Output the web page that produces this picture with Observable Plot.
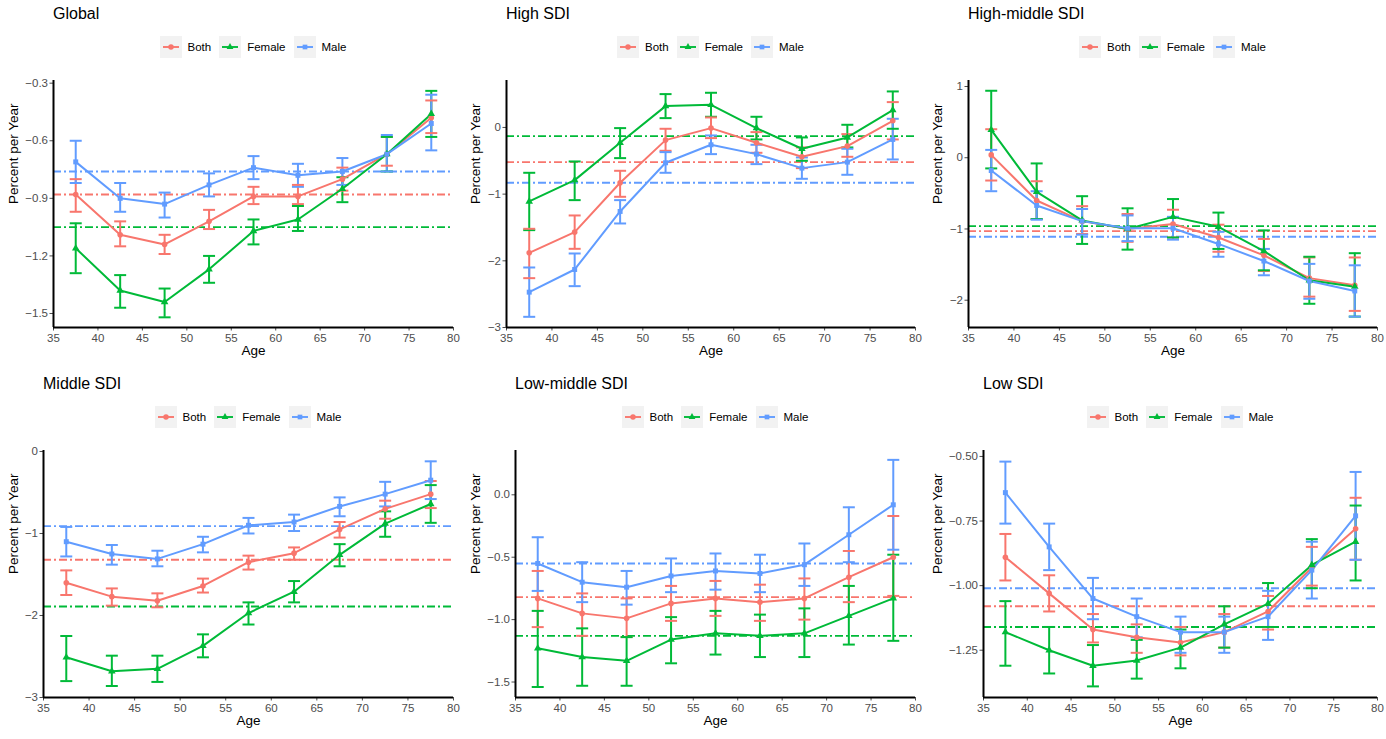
<!DOCTYPE html>
<html><head><meta charset="utf-8">
<script src="https://cdn.jsdelivr.net/npm/d3@7"></script>
<script src="https://cdn.jsdelivr.net/npm/@observablehq/plot@0.6"></script>
<style>
body{margin:0;background:#fff;font-family:"Liberation Sans",Arial,sans-serif;}
#grid{position:relative;width:1386px;height:739px;overflow:hidden;}
.panel{position:absolute;width:462px;height:370px;}
.title{position:absolute;top:6px;font-size:16px;line-height:1;color:#000;white-space:nowrap;}
.legend{position:absolute;top:36px;height:22px;display:flex;align-items:center;font-size:11.5px;color:#000;white-space:nowrap;}
.legend .key{width:22px;height:22px;background:#F2F2F2;margin-right:6px;}
.legend .lab{margin-right:8px;}
.panel .plotwrap{position:absolute;top:60px;left:0;}
</style>
</head><body>
<div id="grid"></div>
<script>
const ages = [37.5, 42.5, 47.5, 52.5, 57.5, 62.5, 67.5, 72.5, 77.5];
const xTicks = [35, 40, 45, 50, 55, 60, 65, 70, 75, 80];
const sexes = ["Both", "Female", "Male"];
const colors = ["#F8766D", "#00BA38", "#619CFF"];
const symbols = ["circle", "triangle", "square"];
const titles = ["Global", "High SDI", "High-middle SDI", "Middle SDI", "Low-middle SDI", "Low SDI"];

// rows: Both, Female, Male
const globalEst = [
  [-0.88, -1.09, -1.14, -1.02, -0.89, -0.89, -0.80, -0.67, -0.48],
  [-1.16, -1.38, -1.44, -1.27, -1.07, -1.01, -0.85, -0.67, -0.46],
  [-0.71, -0.90, -0.93, -0.83, -0.74, -0.78, -0.76, -0.67, -0.51]];
const globalUpper = [
  [-0.80, -1.02, -1.09, -0.96, -0.84, -0.83, -0.74, -0.58, -0.39],
  [-1.03, -1.30, -1.37, -1.20, -1.01, -0.94, -0.79, -0.58, -0.34],
  [-0.60, -0.82, -0.87, -0.77, -0.68, -0.72, -0.69, -0.57, -0.36]];
const globalLower = [
  [-0.97, -1.15, -1.19, -1.06, -0.93, -0.93, -0.86, -0.73, -0.56],
  [-1.29, -1.47, -1.52, -1.34, -1.14, -1.07, -0.92, -0.76, -0.58],
  [-0.82, -0.97, -1.00, -0.89, -0.80, -0.84, -0.83, -0.76, -0.65]];
const globalAAPC = [-0.88, -1.05, -0.76];
const globalTicks = [-1.5, -1.2, -0.9, -0.6, -0.3];

const highEst = [
  [-1.88, -1.57, -0.83, -0.19, -0.01, -0.23, -0.44, -0.28, 0.10],
  [-1.11, -0.79, -0.23, 0.32, 0.34, -0.01, -0.32, -0.15, 0.26],
  [-2.47, -2.13, -1.26, -0.53, -0.26, -0.40, -0.61, -0.52, -0.18]];
const highUpper = [
  [-1.52, -1.32, -0.65, -0.02, 0.15, -0.07, -0.30, -0.10, 0.38],
  [-0.68, -0.51, -0.01, 0.50, 0.52, 0.16, -0.15, 0.04, 0.54],
  [-2.10, -1.89, -1.09, -0.37, -0.12, -0.26, -0.45, -0.32, 0.13]];
const highLower = [
  [-2.26, -1.82, -1.04, -0.35, -0.16, -0.38, -0.61, -0.44, -0.18],
  [-1.54, -1.09, -0.46, 0.14, 0.16, -0.18, -0.50, -0.30, -0.02],
  [-2.84, -2.38, -1.44, -0.68, -0.40, -0.55, -0.77, -0.71, -0.48]];
const highAAPC = [-0.52, -0.13, -0.83];
const highTicks = [-3, -2, -1, 0];

const highMiddleEst = [
  [0.04, -0.60, -0.89, -1.00, -0.93, -1.12, -1.37, -1.69, -1.79],
  [0.39, -0.48, -0.88, -1.00, -0.83, -0.97, -1.31, -1.72, -1.81],
  [-0.18, -0.67, -0.89, -0.99, -0.99, -1.21, -1.45, -1.73, -1.87]];
const highMiddleUpper = [
  [0.40, -0.33, -0.68, -0.79, -0.73, -0.94, -1.14, -1.40, -1.40],
  [0.94, -0.08, -0.54, -0.71, -0.58, -0.77, -1.02, -1.39, -1.34],
  [0.11, -0.47, -0.72, -0.81, -0.83, -1.04, -1.28, -1.49, -1.51]];
const highMiddleLower = [
  [-0.32, -0.86, -1.07, -1.18, -1.12, -1.32, -1.59, -1.95, -2.15],
  [-0.15, -0.86, -1.21, -1.29, -1.12, -1.28, -1.58, -2.05, -2.23],
  [-0.47, -0.87, -1.08, -1.17, -1.15, -1.39, -1.65, -1.98, -2.23]];
const highMiddleAAPC = [-1.03, -0.96, -1.11];
const highMiddleTicks = [-2, -1, 0, 1];

const middleEst = [
  [-1.60, -1.77, -1.82, -1.64, -1.35, -1.24, -0.95, -0.70, -0.52],
  [-2.51, -2.68, -2.65, -2.37, -1.97, -1.71, -1.26, -0.88, -0.64],
  [-1.10, -1.25, -1.31, -1.13, -0.90, -0.86, -0.67, -0.52, -0.35]];
const middleUpper = [
  [-1.45, -1.67, -1.73, -1.55, -1.27, -1.17, -0.86, -0.60, -0.36],
  [-2.25, -2.49, -2.49, -2.23, -1.84, -1.58, -1.13, -0.73, -0.41],
  [-0.92, -1.14, -1.21, -1.04, -0.81, -0.77, -0.56, -0.37, -0.12]];
const middleLower = [
  [-1.75, -1.88, -1.90, -1.72, -1.44, -1.32, -1.05, -0.82, -0.69],
  [-2.80, -2.86, -2.81, -2.51, -2.11, -1.84, -1.40, -1.04, -0.87],
  [-1.28, -1.38, -1.40, -1.23, -1.00, -0.97, -0.79, -0.67, -0.58]];
const middleAAPC = [-1.32, -1.89, -0.91];
const middleTicks = [-3, -2, -1, 0];

const lowMiddleEst = [
  [-0.83, -0.95, -0.99, -0.87, -0.83, -0.86, -0.83, -0.66, -0.50],
  [-1.23, -1.30, -1.33, -1.16, -1.11, -1.13, -1.11, -0.97, -0.83],
  [-0.55, -0.70, -0.74, -0.65, -0.61, -0.63, -0.56, -0.32, -0.08]];
const lowMiddleUpper = [
  [-0.61, -0.79, -0.83, -0.73, -0.69, -0.72, -0.67, -0.45, -0.17],
  [-0.93, -1.07, -1.14, -0.98, -0.93, -0.96, -0.91, -0.73, -0.48],
  [-0.34, -0.54, -0.61, -0.51, -0.47, -0.48, -0.39, -0.10, 0.28]];
const lowMiddleLower = [
  [-1.06, -1.13, -1.14, -1.01, -0.97, -1.01, -1.00, -0.86, -0.81],
  [-1.54, -1.53, -1.53, -1.35, -1.28, -1.30, -1.30, -1.20, -1.17],
  [-0.77, -0.86, -0.88, -0.78, -0.76, -0.78, -0.73, -0.54, -0.44]];
const lowMiddleAAPC = [-0.82, -1.13, -0.55];
const lowMiddleTicks = [-1.5, -1.0, -0.5, 0.0];

const lowEst = [
  [-0.89, -1.03, -1.17, -1.20, -1.22, -1.18, -1.10, -0.93, -0.78],
  [-1.18, -1.25, -1.31, -1.29, -1.24, -1.15, -1.07, -0.92, -0.83],
  [-0.64, -0.85, -1.05, -1.12, -1.18, -1.18, -1.12, -0.94, -0.73]];
const lowUpper = [
  [-0.80, -0.96, -1.11, -1.15, -1.16, -1.11, -1.04, -0.85, -0.66],
  [-1.06, -1.16, -1.23, -1.21, -1.17, -1.08, -0.99, -0.82, -0.69],
  [-0.52, -0.76, -0.97, -1.05, -1.12, -1.12, -1.02, -0.83, -0.56]];
const lowLower = [
  [-0.98, -1.10, -1.22, -1.26, -1.27, -1.24, -1.17, -1.00, -0.90],
  [-1.31, -1.34, -1.39, -1.36, -1.32, -1.24, -1.16, -1.01, -0.98],
  [-0.76, -0.94, -1.13, -1.20, -1.26, -1.26, -1.21, -1.05, -0.90]];
const lowAAPC = [-1.08, -1.16, -1.01];
const lowTicks = [-1.25, -1.00, -0.75, -0.50];

const panels = [
  {est: globalEst, up: globalUpper, lo: globalLower, aapc: globalAAPC, ticks: globalTicks, fmt: ".1f", domain: [-1.573, -0.286], ml: 53},
  {est: highEst, up: highUpper, lo: highLower, aapc: highAAPC, ticks: highTicks, fmt: ".0f", domain: [-3.0, 0.704], ml: 44},
  {est: highMiddleEst, up: highMiddleUpper, lo: highMiddleLower, aapc: highMiddleAAPC, ticks: highMiddleTicks, fmt: ".0f", domain: [-2.383, 1.084], ml: 44},
  {est: middleEst, up: middleUpper, lo: middleLower, aapc: middleAAPC, ticks: middleTicks, fmt: ".0f", domain: [-3.0, 0.012], ml: 43},
  {est: lowMiddleEst, up: lowMiddleUpper, lo: lowMiddleLower, aapc: lowMiddleAAPC, ticks: lowMiddleTicks, fmt: ".1f", domain: [-1.624, 0.355], ml: 53},
  {est: lowEst, up: lowUpper, lo: lowLower, aapc: lowAAPC, ticks: lowTicks, fmt: ".2f", domain: [-1.433, -0.477], ml: 59}
];

const PW = 462, PH = 370, SVGH = 310, MR = 9, MT = 20, MB = 43;
const capSymbol = {draw(ctx) { ctx.moveTo(-6, 0); ctx.lineTo(6, 0); }};
const grid = document.getElementById("grid");

panels.forEach((p, k) => {
  const col = k % 3, row = Math.floor(k / 3);
  const panel = document.createElement("div");
  panel.className = "panel";
  panel.style.left = (col * PW) + "px";
  panel.style.top = (row * PH) + "px";
  grid.appendChild(panel);

  const t = document.createElement("div");
  t.className = "title";
  t.textContent = titles[k];
  t.style.left = p.ml + "px";
  panel.appendChild(t);

  // legend
  const lg = document.createElement("div");
  lg.className = "legend";
  sexes.forEach((s, i) => {
    const key = document.createElement("div");
    key.className = "key";
    const sym = [d3.symbolCircle, d3.symbolTriangle, d3.symbolSquare][i];
    const sz = [24, 20, 22][i];
    key.innerHTML = `<svg width="22" height="22"><line x1="3" x2="19" y1="11" y2="11" stroke="${colors[i]}" stroke-width="1.9"/><path transform="translate(11,11)" d="${d3.symbol(sym, sz)()}" fill="${colors[i]}"/></svg>`;
    const lab = document.createElement("span");
    lab.className = "lab";
    lab.textContent = s;
    lg.appendChild(key);
    lg.appendChild(lab);
  });
  panel.appendChild(lg);
  const center = (p.ml + (PW - MR)) / 2;
  lg.style.left = (center - (lg.offsetWidth - 8) / 2) + "px";

  // data
  const data = [];
  sexes.forEach((s, i) => ages.forEach((a, j) => data.push({age: a, sex: s, est: p.est[i][j], lo: p.lo[i][j], hi: p.up[i][j]})));
  const hl = sexes.map((s, i) => ({sex: s, v: p.aapc[i]}));

  const chart = Plot.plot({
    width: PW, height: SVGH,
    marginLeft: p.ml, marginRight: MR, marginTop: MT, marginBottom: MB,
    style: {fontFamily: "'Liberation Sans', Arial, sans-serif", fontSize: "11.5px", background: "white"},
    x: {domain: [35, 80]},
    y: {domain: p.domain},
    color: {domain: sexes, range: colors},
    symbol: {domain: sexes, range: symbols},
    marks: [
      Plot.ruleY(hl, {y: "v", stroke: "sex", strokeWidth: 1.9, strokeDasharray: "8,3,2,3"}),
      Plot.ruleX(data, {x: "age", y1: "lo", y2: "hi", stroke: "sex", strokeWidth: 2}),
      Plot.dot(data, {x: "age", y: "lo", symbol: capSymbol, stroke: "sex", fill: "none", strokeWidth: 2}),
      Plot.dot(data, {x: "age", y: "hi", symbol: capSymbol, stroke: "sex", fill: "none", strokeWidth: 2}),
      Plot.line(data, {x: "age", y: "est", z: "sex", stroke: "sex", strokeWidth: 2}),
      Plot.dot(data, {x: "age", y: "est", fill: "sex", symbol: "sex", r: 2.8}),
      Plot.axisX({ticks: xTicks, tickSize: 3.5, tickPadding: 3, color: "#4D4D4D", label: null, fontSize: 11.5}),
      Plot.axisY({ticks: p.ticks, tickFormat: d3.format(p.fmt), tickSize: 3.5, tickPadding: 2, color: "#4D4D4D", label: null, fontSize: 11.5}),
      Plot.ruleX([35], {stroke: "black", strokeWidth: 2}),
      Plot.ruleY([p.domain[0]], {stroke: "black", strokeWidth: 2}),
      Plot.text(["Percent per Year"], {frameAnchor: "left", rotate: -90, dx: -(p.ml - 13), fontSize: 13.5, fill: "black", text: d => d}),
      Plot.text(["Age"], {frameAnchor: "bottom", dy: 27, fontSize: 13.5, fill: "black", text: d => d})
    ]
  });
  const wrap = document.createElement("div");
  wrap.className = "plotwrap";
  wrap.appendChild(chart);
  panel.appendChild(wrap);
});
</script>
</body></html>
